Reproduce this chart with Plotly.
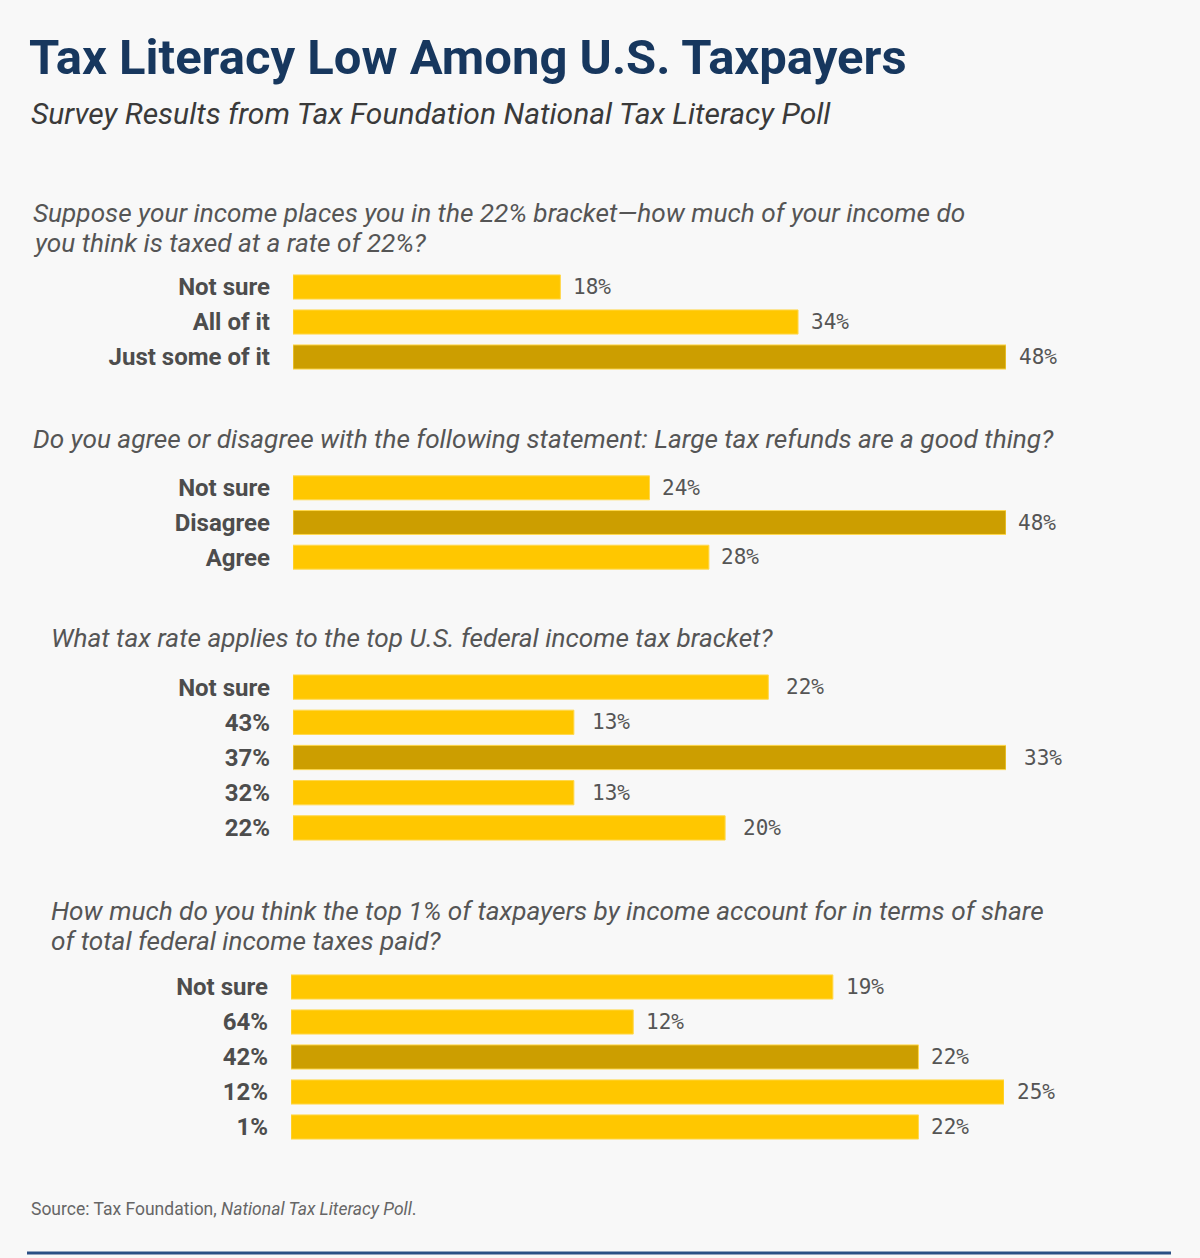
import plotly.graph_objects as go

# Survey data, top row first
q1_labels = ["Not sure", "All of it", "Just some of it"]
q1_values = [18, 34, 48]
q2_labels = ["Not sure", "Disagree", "Agree"]
q2_values = [24, 48, 28]
q3_labels = ["Not sure", "43%", "37%", "32%", "22%"]
q3_values = [22, 13, 33, 13, 20]
q4_labels = ["Not sure", "64%", "42%", "12%", "1%"]
q4_values = [19, 12, 22, 25, 22]

# index of the correct answer in each question
correct = [2, 1, 2, 2]

questions = [
    ["Suppose your income places you in the 22% bracket\u2014how much of your income do",
     "you think is taxed at a rate of 22%?"],
    ["Do you agree or disagree with the following statement: Large tax refunds are a good thing?"],
    ["What tax rate applies to the top U.S. federal income tax bracket?"],
    ["How much do you think the top 1% of taxpayers by income account for in terms of share",
     "of total federal income taxes paid?"],
]

W, H = 1200, 1258
BG = "#f8f8f8"
YELLOW = "#ffc700"
GOLD = "#cc9e00"

# (labels, values, top px, bottom px, bar start px, bar end px, label gap)
panels = [
    (q1_labels, q1_values, 269.5, 374.5, 293, 1006, 11),
    (q2_labels, q2_values, 470.5, 574.5, 293, 1006, 10),
    (q3_labels, q3_values, 669.5, 845.5, 293, 1006, 16),
    (q4_labels, q4_values, 969.5, 1144.5, 291, 1004, 11),
]
question_pos = [(31, [213, 243]), (31, [439]), (49, [638]), (49, [911, 941])]

fig = go.Figure()
layout = {}
annotations = []

for i, (labels, values, top, bottom, x0, x1, gap) in enumerate(panels):
    n = i + 1
    sfx = "" if n == 1 else str(n)
    colors = [GOLD if k == correct[i] else YELLOW for k in range(len(values))]
    fig.add_trace(go.Bar(
        x=values,
        y=labels,
        orientation="h",
        marker=dict(color=colors, line=dict(color="#ffd84d", width=1)),
        width=0.69,
        xaxis="x" + sfx,
        yaxis="y" + sfx,
        hoverinfo="skip",
    ))
    for lab, v in zip(labels, values):
        annotations.append(dict(
            text="%d%%" % v, x=v, y=lab, xref="x" + sfx, yref="y" + sfx,
            xanchor="left", yanchor="middle", xshift=gap, showarrow=False,
            font=dict(family="DejaVu Sans Mono", size=21, color="#555555"),
        ))
    layout["xaxis" + sfx] = dict(
        domain=[x0 / W, x1 / W],
        range=[0, max(values)],
        visible=False,
        anchor="y" + sfx,
    )
    layout["yaxis" + sfx] = dict(
        domain=[1 - bottom / H, 1 - top / H],
        range=[len(labels) - 0.5, -0.5],
        categoryorder="array",
        categoryarray=labels,
        showgrid=False,
        showline=False,
        zeroline=False,
        ticks="",
        ticklabelstandoff=22,
        tickfont=dict(family="Roboto", size=24, color="#4d4d4d", weight="bold"),
        anchor="x" + sfx,
    )

texts = [
    dict(text="<b>Tax Literacy Low Among U.S. Taxpayers</b>", x=27 / W, y=1 - 58 / H,
         font=dict(family="Roboto", size=49, color="#17375e")),
    dict(text="<i>Survey Results from Tax Foundation National Tax Literacy Poll</i>",
         x=29 / W, y=1 - 114 / H,
         font=dict(family="Roboto", size=30, color="#3a3a3a")),
    dict(text="Source: Tax Foundation, <i>National Tax Literacy Poll</i>.", x=29 / W, y=1 - 1209 / H,
         font=dict(family="Roboto", size=17.5, color="#666666")),
]
for (qx, ys), lines in zip(question_pos, questions):
    for qy, line in zip(ys, lines):
        texts.append(dict(
            text="<i>" + line + "</i>", x=qx / W, y=1 - qy / H,
            font=dict(family="Roboto", size=26.2, color="#555555"),
        ))
for a in texts:
    a.update(xref="paper", yref="paper", xanchor="left", yanchor="middle",
             showarrow=False, align="left")
annotations += texts

fig.update_layout(
    width=W,
    height=H,
    margin=dict(l=0, r=0, t=0, b=0),
    paper_bgcolor=BG,
    plot_bgcolor=BG,
    showlegend=False,
    annotations=annotations,
    shapes=[dict(type="line", xref="paper", yref="paper",
                 x0=27 / W, x1=1171 / W, y0=1 - 1253 / H, y1=1 - 1253 / H,
                 line=dict(color="#2a4f85", width=3))],
    **layout,
)

fig.write_html("out.html", config={"displayModeBar": False},
               post_script="document.body.style.margin='0';")
